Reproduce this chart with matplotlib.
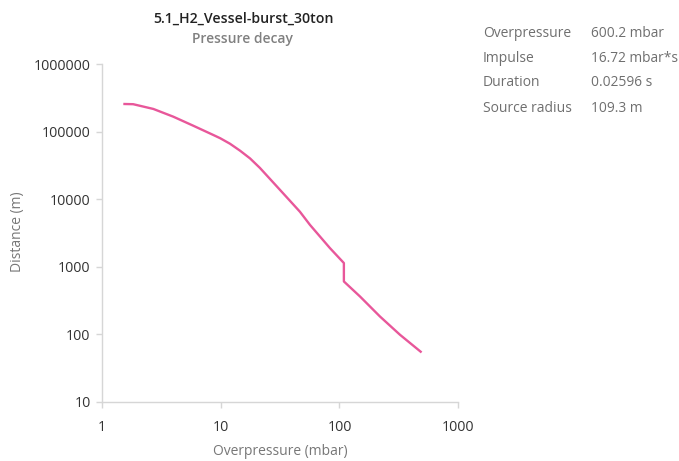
import matplotlib
matplotlib.use("Agg")
import matplotlib.pyplot as plt

# Data
overpressure_mbar = [1.52, 1.84, 2.72, 4.00, 5.89, 8.68, 9.93, 12.0, 14.6, 17.7, 21.4, 31.6,
                     46.5, 56.5, 83.2, 109.0, 109.0, 149, 219, 323, 491]
distance_m = [2.56e5, 2.54e5, 2.16e5, 1.66e5, 1.22e5, 8.9e4, 7.96e4, 6.6e4, 5.2e4, 4.0e4, 2.9e4, 1.37e4,
              6.5e3, 4.15e3, 1.88e3, 1.13e3, 603, 361, 183, 98, 53.6]

x_ticks = [1, 10, 100, 1000]
y_ticks = [10, 100, 1000, 10000, 100000, 1000000]

info_labels = ["Overpressure", "Impulse", "Duration", "Source radius"]
info_values = ["600.2 mbar", "16.72 mbar*s", "0.02596 s", "109.3 m"]

title = "5.1_H2_Vessel-burst_30ton"
subtitle = "Pressure decay"
x_label = "Overpressure (mbar)"
y_label = "Distance (m)"

plt.rcParams['font.family'] = ['Open Sans', 'DejaVu Sans']

W, H = 679, 461
fig = plt.figure(figsize=(W / 100, H / 100), dpi=100)
ax = fig.add_axes([101.7 / W, 1 - 401.7 / H, (458.3 - 101.7) / W, (401.7 - 64) / H])

ax.plot(overpressure_mbar, distance_m, color='#e8579a', lw=1.7,
        solid_joinstyle='round', solid_capstyle='butt')
ax.set_xscale('log')
ax.set_yscale('log')
ax.set_xlim(1, 1000)
ax.set_ylim(10, 1000000)
ax.set_xticks(x_ticks)
ax.set_xticklabels([str(v) for v in x_ticks])
ax.set_yticks(y_ticks)
ax.set_yticklabels([str(v) for v in y_ticks])
ax.minorticks_off()

for s in ['top', 'right']:
    ax.spines[s].set_visible(False)
for s in ['left', 'bottom']:
    ax.spines[s].set_color('#d6d6d6')
    ax.spines[s].set_linewidth(1.0)
ax.tick_params(axis='both', which='major', length=4, width=1, color='#d6d6d6',
               labelcolor='#333333', labelsize=10.3, pad=4)
ax.tick_params(axis='x', pad=9)

fig.text(280 / W, 1 - 451 / H, x_label, ha='center', va='center',
         color='#777777', fontsize=10)
fig.text(18 / W, 1 - 232 / H, y_label, ha='center', va='center', rotation=90,
         color='#777777', fontsize=10)

fig.text(243 / W, 1 - 19 / H, title, ha='center', va='center', fontsize=10.2,
         fontweight='semibold', color='#222222')
fig.text(243 / W, 1 - 39 / H, subtitle, ha='center', va='center', fontsize=10,
         fontweight='semibold', color='#808080')

row_y = [33, 58, 83, 108]
for lab, val, yy in zip(info_labels, info_values, row_y):
    fig.text(483 / W, 1 - yy / H, lab, ha='left', va='center', fontsize=10, color='#6f6f6f')
    fig.text(591 / W, 1 - yy / H, val, ha='left', va='center', fontsize=9.9, color='#6f6f6f')

fig.savefig("out.png", dpi=100)
